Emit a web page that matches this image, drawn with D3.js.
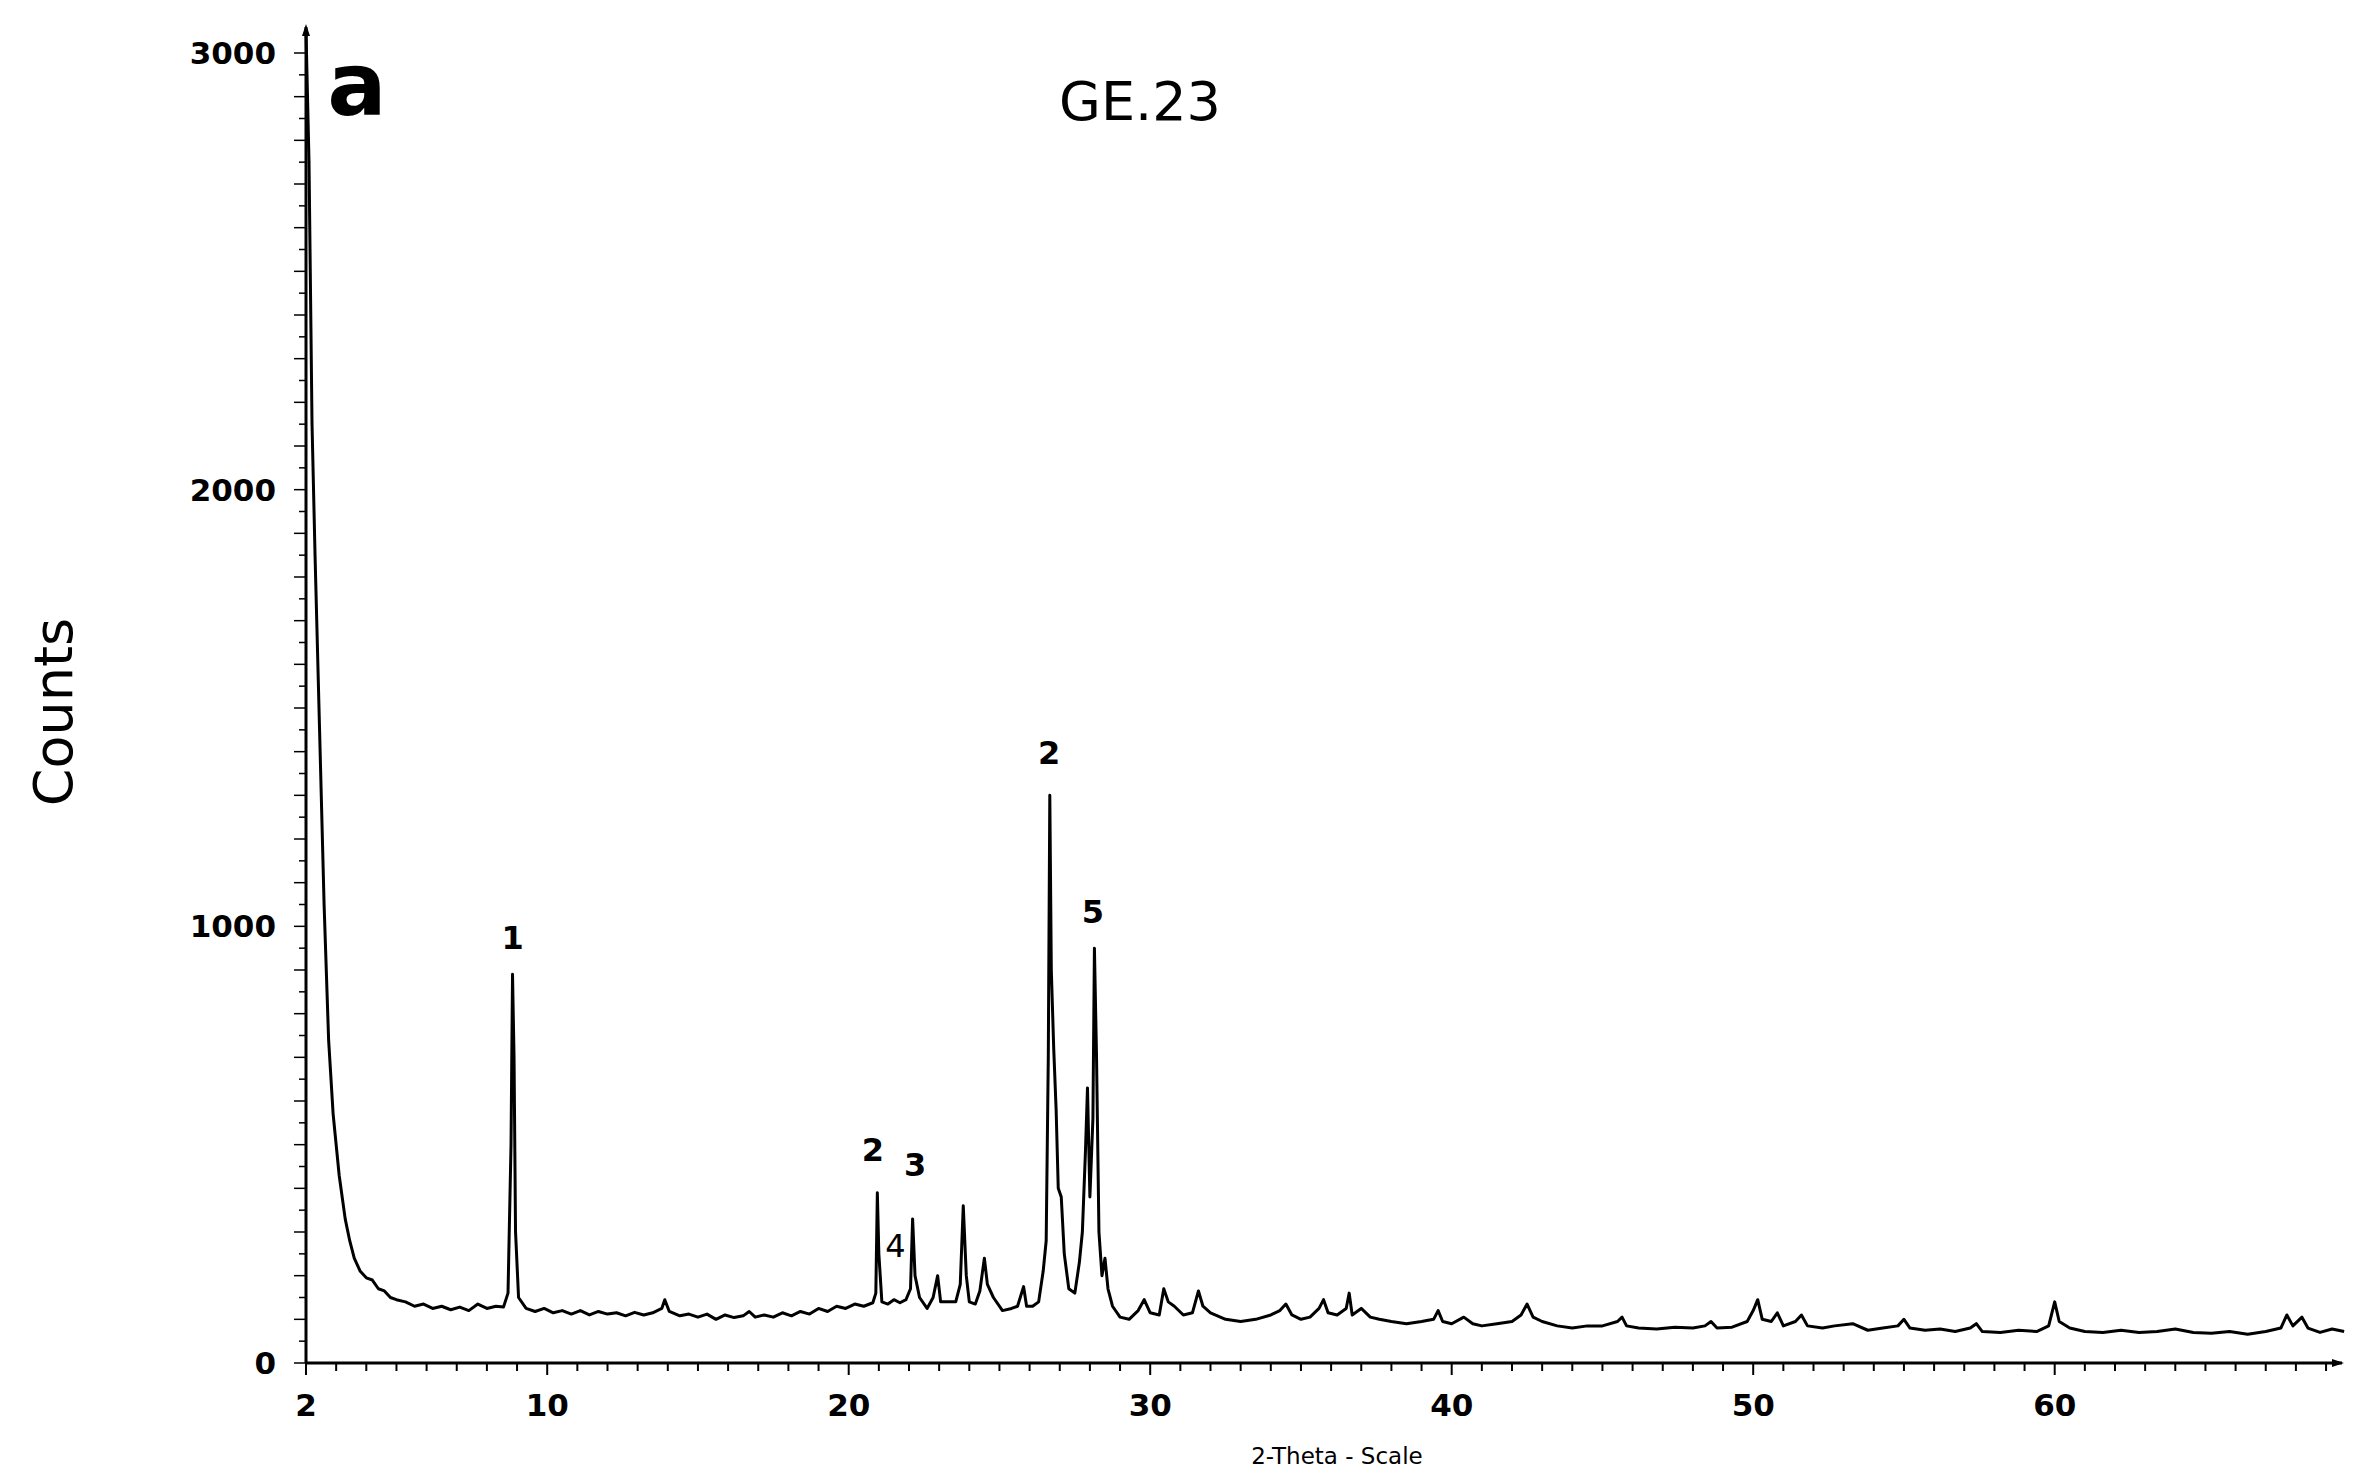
<html>
<head>
<script src="https://d3js.org/d3.v7.min.js"></script>
<style>
  body { margin: 0; background: #fff; }
  text { font-family: 'DejaVu Sans', sans-serif; fill: #000; }
</style>
</head>
<body>
<svg width="2361" height="1484"></svg>
<script>
// 2-theta / counts
let twoTheta = [2.0,2.1,2.2,2.3,2.45,2.6,2.75,2.9,3.1,3.3,3.45,3.6,3.8,4.0,4.2,4.4,4.6,4.8,5.0,5.3,5.6,5.9,6.2,6.5,6.8,7.1,7.4,7.7,8.0,8.3,8.55,8.7,8.8,8.85,8.9,8.95,9.05,9.3,9.6,9.9,10.2,10.5,10.8,11.1,11.4,11.7,12.0,12.3,12.6,12.9,13.2,13.5,13.8,13.9,14.05,14.4,14.7,15.0,15.3,15.6,15.9,16.2,16.5,16.7,16.9,17.2,17.5,17.8,18.1,18.4,18.7,19.0,19.3,19.6,19.9,20.2,20.5,20.8,20.9,20.95,21.0,21.1,21.3,21.5,21.7,21.9,22.05,22.12,22.2,22.35,22.6,22.8,22.95,23.05,23.3,23.55,23.7,23.8,23.9,24.0,24.2,24.35,24.5,24.6,24.8,25.1,25.4,25.6,25.8,25.9,26.1,26.3,26.45,26.55,26.62,26.67,26.72,26.8,26.88,26.95,27.05,27.15,27.3,27.5,27.65,27.75,27.85,27.92,28.0,28.1,28.15,28.22,28.3,28.4,28.5,28.6,28.75,29.0,29.3,29.6,29.8,30.0,30.3,30.45,30.6,30.8,31.1,31.4,31.6,31.75,32.0,32.5,33.0,33.5,34.0,34.3,34.5,34.7,35.0,35.3,35.6,35.75,35.9,36.2,36.5,36.6,36.7,37.0,37.3,37.6,38.0,38.5,39.0,39.4,39.55,39.7,40.0,40.4,40.7,41.0,41.5,42.0,42.3,42.5,42.7,43.0,43.5,44.0,44.5,45.0,45.5,45.65,45.8,46.2,46.8,47.4,48.0,48.4,48.6,48.8,49.3,49.8,50.0,50.15,50.3,50.6,50.8,51.0,51.4,51.6,51.8,52.3,52.7,53.3,53.8,54.3,54.8,55.0,55.2,55.7,56.2,56.7,57.2,57.4,57.6,58.2,58.8,59.4,59.8,60.0,60.15,60.5,61.0,61.6,62.2,62.8,63.4,64.0,64.6,65.2,65.8,66.4,67.0,67.5,67.7,67.9,68.2,68.4,68.8,69.2,69.6]
let counts = [3050,2750,2150,1850,1450,1050,740,570,430,330,280,240,210,195,190,170,165,150,145,140,130,135,125,130,122,128,120,135,125,130,128,160,500,890,700,300,150,125,118,125,115,120,112,120,110,118,112,115,108,116,110,115,125,145,118,108,112,105,112,100,110,104,108,118,105,110,105,115,108,118,112,125,118,130,125,135,130,138,160,390,250,140,135,145,138,145,170,330,200,150,125,150,200,140,140,140,180,360,200,140,135,165,240,180,150,120,125,130,175,130,130,140,210,280,700,1300,900,720,580,400,380,250,170,160,230,300,480,630,380,560,950,700,300,200,240,170,130,105,100,120,145,115,110,170,140,130,110,115,165,130,115,100,95,100,110,120,135,110,100,105,125,145,115,110,125,160,110,125,105,100,95,90,95,100,120,95,90,105,90,85,90,95,110,135,105,95,85,80,85,85,95,105,85,80,78,82,80,85,95,80,82,95,120,145,100,95,115,85,95,110,85,80,85,90,75,80,85,100,80,75,78,72,80,90,72,70,75,72,85,140,95,80,72,70,75,70,72,78,70,68,72,66,72,80,110,85,105,80,70,78,72]

let xTicks = [2, 10, 20, 30, 40, 50, 60]
let yTicks = [0, 1000, 2000, 3000]
let peakLabels = [
  {x: 8.85, y: 975, t: '1', bold: true},
  {x: 20.8, y: 490, t: '2', bold: true},
  {x: 22.2, y: 455, t: '3', bold: true},
  {x: 21.55, y: 270, t: '4', bold: false},
  {x: 26.65, y: 1400, t: '2', bold: true},
  {x: 28.1, y: 1035, t: '5', bold: true}
]

let svg = d3.select('svg')
let x0 = 306, x1 = 2342, yBase = 1363

let x = d3.scaleLinear().domain([2, 2 + (x1 - x0) / 30.15]).range([x0, x1])
let y = d3.scaleLinear().domain([0, 3000]).range([yBase, 53])

// axes lines
svg.append('line').attr('x1', x0).attr('x2', x1).attr('y1', yBase).attr('y2', yBase)
  .attr('stroke', '#000').attr('stroke-width', 3)
svg.append('line').attr('x1', x0).attr('x2', x0).attr('y1', yBase).attr('y2', 27)
  .attr('stroke', '#000').attr('stroke-width', 3)
svg.append('path').attr('d', `M${x0 - 4},36 L${x0},24 L${x0 + 4},36 Z`).attr('fill', '#000')
svg.append('path').attr('d', `M${x1 - 10},${yBase - 4} L${x1 + 2},${yBase} L${x1 - 10},${yBase + 4} Z`).attr('fill', '#000')

// minor ticks
let xMinor = d3.range(2, 70, 1)
svg.selectAll('.xt').data(xMinor).enter().append('line')
  .attr('x1', d => x(d)).attr('x2', d => x(d))
  .attr('y1', yBase).attr('y2', d => (d % 10 === 0 || d === 2) ? yBase + 12 : yBase + 8)
  .attr('stroke', '#000').attr('stroke-width', 2)
let yMinor = d3.range(0, 3050, 50)
svg.selectAll('.yt').data(yMinor).enter().append('line')
  .attr('x1', d => d % 100 === 0 ? x0 - 12 : x0 - 7).attr('x2', x0)
  .attr('y1', d => y(d)).attr('y2', d => y(d))
  .attr('stroke', '#000').attr('stroke-width', 1.5)

svg.selectAll('.xl').data(xTicks).enter().append('text')
  .attr('x', d => x(d)).attr('y', 1416).attr('text-anchor', 'middle')
  .attr('font-size', 31).attr('font-weight', 'bold').text(d => d)
svg.selectAll('.yl').data(yTicks).enter().append('text')
  .attr('x', 276).attr('y', d => y(d) + 11).attr('text-anchor', 'end')
  .attr('font-size', 31).attr('font-weight', 'bold').text(d => d)

// pattern
let pts = twoTheta.map((t, i) => [t, counts[i]])
svg.append('path').datum(pts)
  .attr('d', d3.line().x(d => x(d[0])).y(d => y(d[1])))
  .attr('fill', 'none').attr('stroke', '#000').attr('stroke-width', 3)
  .attr('stroke-linejoin', 'round')

svg.selectAll('.pl').data(peakLabels).enter().append('text')
  .attr('x', d => x(d.x)).attr('y', d => y(d.y) + 12).attr('text-anchor', 'middle')
  .attr('font-size', 32).attr('font-weight', d => d.bold ? 'bold' : 'normal').text(d => d.t)

svg.append('text').attr('x', 357).attr('y', 115).attr('text-anchor', 'middle')
  .attr('font-size', 88).attr('font-weight', 'bold').text('a')
svg.append('text').attr('x', 1140).attr('y', 120).attr('text-anchor', 'middle')
  .attr('font-size', 54).text('GE.23')
svg.append('text').attr('transform', 'translate(72,712) rotate(-90)').attr('text-anchor', 'middle')
  .attr('font-size', 54).text('Counts')
svg.append('text').attr('x', 1337).attr('y', 1464).attr('text-anchor', 'middle')
  .attr('font-size', 23).text('2-Theta - Scale')
</script>
</body>
</html>
